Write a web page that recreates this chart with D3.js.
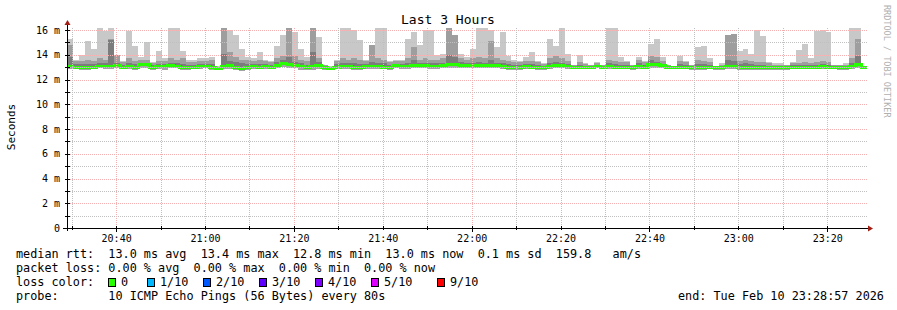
<!DOCTYPE html>
<html lang="en">
<head>
<meta charset="UTF-8">
<title>Last 3 Hours</title>
<script src="https://cdn.jsdelivr.net/npm/d3@7/dist/d3.min.js"></script>
<style>
  body { margin: 0; background: #fff; }
  svg text { font-family: "DejaVu Sans Mono", monospace; fill: #000; }
</style>
</head>
<body>
<svg id="chart" width="897" height="310"></svg>
<script>
// smoke values per 80s step (ms): max ping, 9th, 8th, median, min
var hiRtt = [15.3,13.6,14.0,15.1,14.5,16.2,15.9,16.2,14.0,13.5,
  15.9,14.7,13.8,15.0,13.4,14.3,13.7,16.2,16.2,14.3,
  13.6,13.6,13.7,13.7,13.8,13.1,16.2,16.0,15.6,14.5,
  13.8,13.7,14.2,13.6,13.5,14.7,15.6,16.2,15.8,14.5,
  13.8,16.2,15.4,13.2,13.1,13.6,16.2,16.2,16.0,15.2,
  13.6,14.8,16.2,16.2,13.5,13.6,13.6,15.3,15.8,14.8,
  16.0,16.0,14.0,14.1,16.2,15.6,14.1,13.8,14.5,16.2,
  16.2,16.0,14.6,15.8,13.9,13.6,13.5,13.8,14.2,13.5,
  13.3,15.3,14.7,16.2,14.1,13.2,14.0,13.3,13.2,13.4,
  13.2,16.2,16.2,13.8,13.5,13.2,13.8,13.5,14.9,15.3,
  13.8,13.2,13.1,13.9,13.5,13.2,14.6,14.7,13.7,13.1,
  13.3,15.6,15.7,14.3,14.5,14.1,16.0,15.5,13.4,13.3,
  13.3,13.2,13.4,14.4,14.9,13.7,15.9,16.0,15.8,13.2,
  13.2,13.3,16.2,16.2,13.1];

var p9Rtt = [14.8,13.5,13.5,13.6,13.5,13.7,13.6,15.25,13.95,13.4,
  13.7,13.5,13.6,13.6,13.35,13.5,13.5,13.7,13.6,13.7,
  13.4,13.4,13.5,13.5,13.6,13.05,16.2,14.2,13.8,13.6,
  13.6,13.5,13.6,13.5,13.4,13.7,13.9,16.2,13.9,13.6,
  13.5,16.2,13.7,13.15,13.05,13.5,13.7,13.6,13.7,13.6,
  13.5,14.8,13.7,13.6,13.4,13.5,13.5,13.7,14.6,13.6,
  13.7,13.6,13.6,13.7,16.2,15.6,13.7,13.6,13.7,13.8,
  13.7,15.1,13.7,13.6,13.5,13.4,13.4,13.5,13.5,13.4,
  13.25,13.7,13.9,13.7,13.5,13.15,13.4,13.25,13.15,13.35,
  13.15,13.6,13.5,13.4,13.4,13.15,13.6,13.4,13.9,13.8,
  13.5,13.15,13.05,13.5,13.4,13.15,13.6,13.5,13.4,13.05,
  13.2,15.6,15.7,13.5,13.6,13.5,13.4,13.4,13.3,13.2,
  13.2,13.15,13.3,13.3,13.4,13.3,13.4,13.5,13.4,13.15,
  13.15,13.2,13.7,15.3,13.05];

var p8Rtt = [13.8,13.25,13.25,13.25,13.25,13.35,13.35,15.2,13.3,13.2,
  13.35,13.25,13.35,13.35,13.15,13.25,13.25,13.35,13.35,13.25,
  13.2,13.2,13.25,13.25,13.25,12.95,14.1,13.5,13.4,13.3,
  13.25,13.25,13.25,13.25,13.2,13.4,13.6,13.8,13.4,13.3,
  13.2,14.2,13.4,13.05,12.95,13.25,13.35,13.35,13.3,13.25,
  13.25,13.4,13.35,13.3,13.2,13.25,13.25,13.35,13.6,13.3,
  13.35,13.3,13.3,13.35,14.0,13.8,13.4,13.3,13.35,13.4,
  13.35,13.6,13.35,13.3,13.25,13.2,13.2,13.25,13.25,13.2,
  13.1,13.35,13.4,13.35,13.25,13.05,13.2,13.1,13.05,13.2,
  13.05,13.3,13.25,13.2,13.2,13.0,13.3,13.2,13.6,13.4,
  13.25,13.05,13.0,13.25,13.2,13.0,13.25,13.25,13.2,13.0,
  13.05,13.6,13.5,13.25,13.3,13.25,13.2,13.2,13.1,13.05,
  13.05,13.0,13.15,13.15,13.15,13.15,13.2,13.25,13.2,13.05,
  13.0,13.05,13.35,13.9,13.0];

var medianRtt = [13.05,13.0,13.0,12.95,13.0,13.05,13.05,13.05,13.1,13.0,
  13.05,13.0,13.2,13.2,13.0,13.05,13.05,13.1,13.05,13.0,
  13.0,13.0,13.05,13.05,13.0,12.9,13.05,13.1,13.0,12.85,
  13.0,13.05,13.0,13.05,13.0,13.15,13.3,13.25,13.1,13.05,
  12.95,13.05,13.1,12.95,12.9,13.0,13.05,13.05,13.0,13.0,
  13.05,13.05,13.05,13.0,13.0,13.1,13.05,13.05,13.15,13.1,
  13.1,13.05,13.05,13.1,13.2,13.25,13.15,13.1,13.1,13.1,
  13.1,13.15,13.1,13.05,13.0,13.0,13.0,13.05,13.0,13.0,
  12.95,13.05,13.1,13.1,13.05,13.0,13.0,13.0,13.0,13.05,
  13.0,13.05,13.0,13.0,13.0,12.95,13.05,13.0,13.2,13.2,
  13.1,13.0,13.0,13.0,13.0,12.95,13.0,13.0,13.0,12.95,
  12.95,13.05,13.05,13.0,13.0,12.95,12.95,12.95,12.95,12.95,
  12.95,12.95,13.0,13.0,13.0,13.0,13.0,13.05,13.0,13.0,
  12.95,12.95,13.05,13.2,13.0];

var loRtt = [12.85,12.85,12.8,12.8,12.85,12.9,12.85,12.85,12.9,12.85,
  12.85,12.8,12.9,12.95,12.8,12.85,12.8,12.9,12.9,12.8,
  12.8,12.85,12.85,12.9,12.8,12.75,12.85,12.85,12.75,12.7,
  12.8,12.85,12.85,12.85,12.85,12.95,13.0,12.95,12.9,12.8,
  12.75,12.8,12.85,12.8,12.75,12.85,12.85,12.85,12.8,12.8,
  12.85,12.85,12.85,12.85,12.8,12.9,12.85,12.85,12.9,12.9,
  12.9,12.85,12.85,12.9,12.95,12.95,12.9,12.9,12.9,12.9,
  12.9,12.95,12.9,12.85,12.8,12.8,12.8,12.85,12.85,12.8,
  12.8,12.85,12.9,12.9,12.85,12.85,12.85,12.85,12.85,12.9,
  12.85,12.85,12.85,12.85,12.85,12.8,12.85,12.85,12.95,12.95,
  12.9,12.85,12.85,12.85,12.85,12.8,12.8,12.8,12.85,12.8,
  12.8,12.85,12.85,12.8,12.8,12.75,12.8,12.8,12.8,12.8,
  12.8,12.8,12.85,12.85,12.85,12.85,12.85,12.85,12.85,12.85,
  12.8,12.8,12.85,12.9,12.85];

var xTickLabels = ["20:40","21:00","21:20","21:40","22:00","22:20","22:40","23:00","23:20"];
var yTickValues = [0,2,4,6,8,10,12,14,16];
var yTickLabels = ["0","2 m","4 m","6 m","8 m","10 m","12 m","14 m","16 m"];

var lossLabels = ["0","1/10","2/10","3/10","4/10","5/10","9/10"];
var lossColors = ["#26ff00","#00b8ff","#0059ff","#5e00ff","#7e00ff","#dd00ff","#ff0000"];

var legendLines = [
  "median rtt:  13.0 ms avg  13.4 ms max  12.8 ms min  13.0 ms now  0.1 ms sd  159.8   am/s",
  "packet loss: 0.00 % avg  0.00 % max  0.00 % min  0.00 % now"
];
var probeLine = "probe:       10 ICMP Echo Pings (56 Bytes) every 80s";
var endLine = "end: Tue Feb 10 23:28:57 2026";

var stepSec = 80;
var endTime = new Date(2026, 1, 10, 23, 28, 57);
var startTime = new Date(+endTime - 3 * 3600 * 1000);

var steps = hiRtt.map(function(d, i) {
    return {
        t0: new Date(+startTime + i * stepSec * 1000),
        t1: new Date(+startTime + (i + 1) * stepSec * 1000),
        hi: d, p9: p9Rtt[i], p8: p8Rtt[i], med: medianRtt[i], lo: loRtt[i]
    };
});

var svg = d3.select("#chart");
svg.append("rect").attr("width", 897).attr("height", 310).attr("fill", "#fff");

var plotLeft = 67, plotRight = 867, plotTop = 28, plotBottom = 228;

var x = d3.scaleTime().domain([startTime, endTime]).range([plotLeft, plotRight]);
var y = d3.scaleLinear().domain([0, 16]).range([plotBottom, 30]);

svg.append("clipPath").attr("id", "plot")
    .append("rect").attr("x", plotLeft).attr("y", plotTop)
    .attr("width", plotRight - plotLeft).attr("height", plotBottom - plotTop);

var plot = svg.append("g").attr("clip-path", "url(#plot)").attr("shape-rendering", "crispEdges");

// smoke layers, lighter the further from the median
var layers = [
    {lo: "p9", hi: "hi", color: "#c8c8c8"},
    {lo: "p8", hi: "p9", color: "#9e9e9e"},
    {lo: "med", hi: "p8", color: "#7c7c7c"},
    {lo: "lo", hi: "med", color: "#a4a4a4"}
];
layers.forEach(function(L) {
    plot.append("g").selectAll("rect")
        .data(steps)
        .enter().append("rect")
        .attr("x", d => Math.round(x(d.t0)))
        .attr("width", d => Math.round(x(d.t1)) - Math.round(x(d.t0)))
        .attr("y", d => y(d[L.hi]))
        .attr("height", d => Math.max(0, y(d[L.lo]) - y(d[L.hi])))
        .attr("fill", L.color);
});

// median line
var medPts = steps.map(d => [x(d.t0), y(d.med)]);
medPts.push([x(endTime), y(steps[steps.length - 1].med)]);
plot.append("path")
    .attr("d", d3.line().curve(d3.curveStepAfter)(medPts))
    .attr("fill", "none")
    .attr("stroke", lossColors[0])
    .attr("stroke-width", 3);

// grid, drawn as rows of 1px dots
var grid = svg.append("g").attr("shape-rendering", "crispEdges");
var minorColor = "#c0c0c0", majorColor = "#f4b0b0";
function hDots(yy, color) {
    var p = "";
    for (var xx = plotLeft + 1; xx < plotRight; xx += 2) p += "M" + xx + "," + yy + "h1v1h-1z";
    grid.append("path").attr("d", p).attr("fill", color);
}
function vDots(xx, color) {
    var p = "";
    for (var yy = plotTop; yy < plotBottom; yy += 2) p += "M" + xx + "," + yy + "h1v1h-1z";
    grid.append("path").attr("d", p).attr("fill", color);
}
d3.range(1, 17).forEach(function(v) {
    hDots(Math.round(y(v)), v % 2 === 0 ? majorColor : minorColor);
});
var minorTimes = d3.timeMinute.every(10).range(startTime, endTime);
minorTimes.forEach(function(t) {
    var major = (t.getHours() * 60 + t.getMinutes()) % 40 === 0;
    var xx = Math.round(x(t));
    vDots(xx, major ? majorColor : minorColor);
    grid.append("rect").attr("x", xx).attr("y", plotBottom - 2)
        .attr("width", 1).attr("height", major ? 6 : 4).attr("fill", "#000");
});
d3.range(1, 17).forEach(function(v) {
    grid.append("rect").attr("x", plotLeft - 2).attr("y", Math.round(y(v)))
        .attr("width", 5).attr("height", 1).attr("fill", "#000");
});

// axis lines and arrows
svg.append("rect").attr("x", plotLeft).attr("y", 24).attr("width", 1).attr("height", plotBottom - 24 + 3)
    .attr("fill", "#000").attr("shape-rendering", "crispEdges");
svg.append("rect").attr("x", plotLeft - 4).attr("y", plotBottom).attr("width", plotRight - plotLeft + 6).attr("height", 1)
    .attr("fill", "#000").attr("shape-rendering", "crispEdges");
svg.append("path").attr("d", "M" + (plotLeft - 2.5) + ",25 L" + (plotLeft + 3.5) + ",25 L" + (plotLeft + 0.5) + ",20 Z")
    .attr("fill", "#a01e14");
svg.append("path").attr("d", "M" + (plotRight + 1) + "," + (plotBottom - 2.5) + " L" + (plotRight + 1) + "," + (plotBottom + 3.5) + " L" + (plotRight + 6) + "," + (plotBottom + 0.5) + " Z")
    .attr("fill", "#a01e14");

// axis labels
var xTickDates = xTickLabels.map(function(s) {
    var p = s.split(":");
    return new Date(2026, 1, 10, +p[0], +p[1]);
});
var xAxis = d3.axisBottom(x).tickValues(xTickDates).tickFormat((d, i) => xTickLabels[i]).tickSize(0).tickPadding(0);
var gx = svg.append("g").attr("transform", "translate(0," + 242 + ")").call(xAxis);
gx.select(".domain").remove();
gx.selectAll("text").attr("dy", 0).attr("font-size", "10px").attr("font-family", "DejaVu Sans Mono");

var yAxis = d3.axisLeft(y).tickValues(yTickValues).tickFormat((d, i) => yTickLabels[i]).tickSize(0).tickPadding(0);
var gy = svg.append("g").attr("transform", "translate(60,0)").call(yAxis);
gy.select(".domain").remove();
gy.selectAll("text").attr("font-size", "10px").attr("font-family", "DejaVu Sans Mono");

// titles
svg.append("text").attr("x", 448).attr("y", 24).attr("text-anchor", "middle")
    .attr("font-size", "13px").text("Last 3 Hours");
svg.append("text").attr("transform", "translate(15,127) rotate(-90)").attr("text-anchor", "middle")
    .attr("font-size", "11px").text("Seconds");
svg.append("text").attr("transform", "translate(884,5) rotate(90)")
    .attr("font-size", "8.5px").style("fill", "#b0b0b0").text("RRDTOOL / TOBI OETIKER");

// legend
var lf = "11.8px";
legendLines.forEach(function(s, i) {
    svg.append("text").attr("x", 16).attr("y", 258 + i * 14).attr("font-size", lf)
        .style("white-space", "pre").text(s);
});
svg.append("text").attr("x", 16).attr("y", 286).attr("font-size", lf).text("loss color:");
var boxX = [108, 147, 203, 259, 315, 371, 437];
lossLabels.forEach(function(l, i) {
    svg.append("rect").attr("x", boxX[i] + 0.5).attr("y", 278.5).attr("width", 7).attr("height", 8)
        .attr("fill", lossColors[i]).attr("stroke", "#000").attr("shape-rendering", "crispEdges");
    svg.append("text").attr("x", boxX[i] + 13).attr("y", 286).attr("font-size", lf).text(l);
});
svg.append("text").attr("x", 16).attr("y", 300).attr("font-size", lf)
    .style("white-space", "pre").text(probeLine);
svg.append("text").attr("x", 678).attr("y", 300).attr("font-size", lf).text(endLine);
</script>
</body>
</html>
